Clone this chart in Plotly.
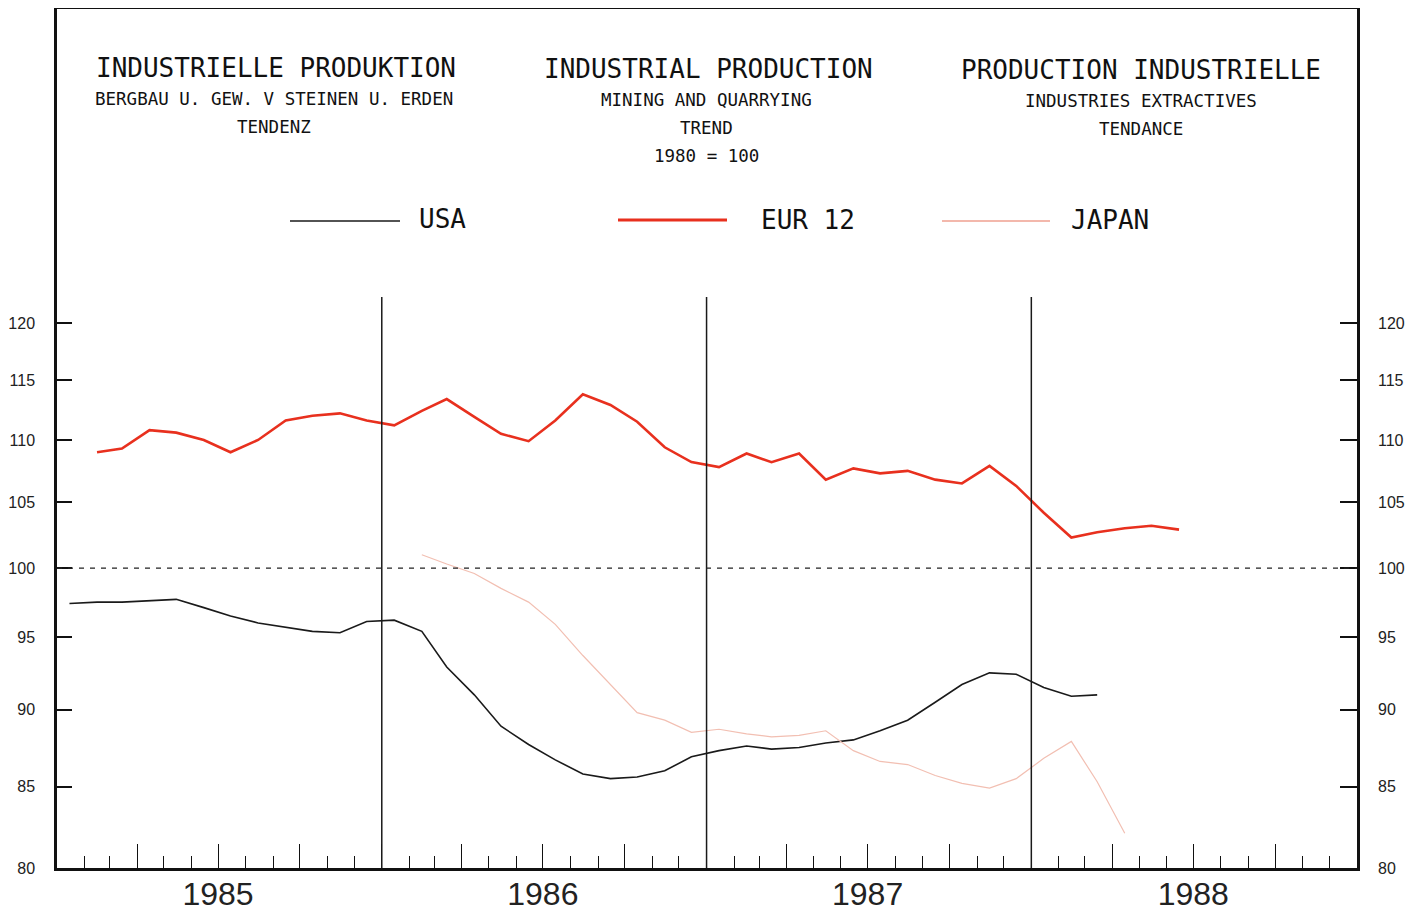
import math
import pandas as pd
import plotly.graph_objects as go

# monthly values, Jan 1985 .. Jun 1988 (1980 = 100)
months = pd.date_range("1985-01-01", periods=42, freq="MS") + pd.Timedelta(days=14)

usa = [97.4, 97.5, 97.5, 97.6, 97.7, 97.1, 96.5, 96.0, 95.7, 95.4, 95.3, 96.1,
       96.2, 95.4, 92.9, 91.0, 88.9, 87.7, 86.7, 85.8, 85.5, 85.6, 86.0, 86.9,
       87.3, 87.6, 87.4, 87.5, 87.8, 88.0, 88.6, 89.3, 90.5, 91.7, 92.5, 92.4,
       91.5, 90.9, 91.0]

eur12 = [None, 109.0, 109.3, 110.8, 110.6, 110.0, 109.0, 110.0, 111.6, 112.0, 112.2, 111.6,
         111.2, 112.4, 113.4, 111.9, 110.5, 109.9, 111.6, 113.8, 112.9, 111.5, 109.4, 108.2,
         107.8, 108.9, 108.2, 108.9, 106.8, 107.7, 107.3, 107.5, 106.8, 106.5, 107.9, 106.3,
         104.2, 102.3, 102.7, 103.0, 103.2, 102.9]

japan = [None] * 13 + [101.0, 100.3, 99.6, 98.5, 97.5, 95.9, 93.7, 91.7, 89.8, 89.3, 88.5,
                       88.7, 88.4, 88.2, 88.3, 88.6, 87.3, 86.6, 86.4, 85.7, 85.2, 84.9, 85.5,
                       86.8, 87.9, 85.3, 82.1]

years = ["1985", "1986", "1987", "1988"]
yticks = [80, 85, 90, 95, 100, 105, 110, 115, 120]

# page body has an 8px margin, so the figure is drawn 8px smaller
OFF = 8
W, H = 1422 - OFF, 917 - OFF
L, R, T, B = 57 - OFF, 65, 1, 49
PW, PH = W - L - R, H - T - B
ylo = math.log10(80)
yhi = ylo + PH / 3095


def px(x):
    return (x - OFF - L) / PW


def py(y):
    return (H - B - (y - OFF)) / PH


fig = go.Figure()
fig.add_trace(go.Scatter(x=months[:len(usa)], y=usa, mode="lines", name="USA",
                         line=dict(color="#1a1a1a", width=1.6)))
fig.add_trace(go.Scatter(x=months[:len(eur12)], y=eur12, mode="lines", name="EUR 12",
                         line=dict(color="#e8301e", width=2.6)))
fig.add_trace(go.Scatter(x=months[:len(japan)], y=japan, mode="lines", name="JAPAN",
                         xaxis="x2", yaxis="y2",
                         line=dict(color="#f2bfb2", width=1.2)))

mono = "DejaVu Sans Mono"
ann = []
def txt(s, x, y, size, xanchor="center"):
    ann.append(dict(text=s, x=px(x), y=py(y), xref="paper", yref="paper", showarrow=False,
                    xanchor=xanchor, yanchor="middle", font=dict(family=mono, size=size, color="#111")))

txt("INDUSTRIELLE PRODUKTION", 276, 68, 26)
txt("BERGBAU U. GEW. V STEINEN U. ERDEN", 274, 99, 17.5)
txt("TENDENZ", 274, 127, 17.5)
txt("INDUSTRIAL PRODUCTION", 709, 69, 26)
txt("MINING AND QUARRYING", 706, 100, 17.5)
txt("TREND", 706, 128, 17.5)
txt("1980 = 100", 706, 156, 17.5)
txt("PRODUCTION INDUSTRIELLE", 1141, 70, 26)
txt("INDUSTRIES EXTRACTIVES", 1141, 101, 17.5)
txt("TENDANCE", 1141, 129, 17.5)
txt("USA", 417, 219, 26, "left")
txt("EUR 12", 759, 220, 26, "left")
txt("JAPAN", 1069, 220, 26, "left")

shapes = []
for x0, x1, y, c, w in [(290, 400, 221, "#1a1a1a", 1.4), (618, 727, 220, "#e8301e", 3),
                        (942, 1050, 221, "#efa090", 1.6)]:
    shapes.append(dict(type="line", xref="paper", yref="paper", x0=px(x0), x1=px(x1),
                       y0=py(y), y1=py(y), line=dict(color=c, width=w)))
# year separators
for yr in ["1986-01-01", "1987-01-01", "1988-01-01"]:
    shapes.append(dict(type="line", xref="x", yref="paper", x0=yr, x1=yr, y0=0, y1=py(297),
                       line=dict(color="#1a1a1a", width=1.5)))
# 1980 = 100 reference
y100 = (math.log10(100) - ylo) / (yhi - ylo)
shapes.append(dict(type="line", xref="paper", yref="paper", x0=0, x1=1, y0=y100, y1=y100,
                   line=dict(color="#222", width=1.2, dash="5px,6px")))

xr = ["1985-01-01", "1989-01-01"]
fig.update_layout(
    width=W, height=H, margin=dict(l=L, r=R, t=T, b=B, autoexpand=False),
    paper_bgcolor="white", plot_bgcolor="white", showlegend=False,
    annotations=ann, shapes=shapes,
    font=dict(family="Liberation Sans", color="#222"),
    xaxis=dict(type="date", range=xr, tickmode="array", automargin=False,
               tickvals=["1985-07-01", "1986-07-01", "1987-07-01", "1988-07-01"], ticktext=years,
               ticks="", showgrid=False, zeroline=False, showline=True, mirror=True,
               linecolor="#111", linewidth=3, tickfont=dict(size=32, color="#222"),
               ticklabelstandoff=-4),
    xaxis2=dict(type="date", range=xr, overlaying="x", side="bottom", showticklabels=False,
                automargin=False,
                tickmode="linear", tick0="1985-01-01", dtick="M3", ticks="inside", ticklen=24,
                tickwidth=1.3, tickcolor="#111", showgrid=False, zeroline=False,
                minor=dict(ticks="inside", dtick="M1", tick0="1985-01-01", ticklen=12,
                           tickwidth=1.1, tickcolor="#111", showgrid=False)),
    yaxis=dict(type="log", range=[ylo, yhi], tickmode="array", tickvals=yticks, automargin=False,
               ticktext=[str(v) for v in yticks], ticks="inside", ticklen=15, tickwidth=1.5,
               tickcolor="#111", showgrid=False, zeroline=False, showline=True, mirror=True,
               linecolor="#111", linewidth=2.5, tickfont=dict(size=16), ticklabelstandoff=16),
    yaxis2=dict(type="log", range=[ylo, yhi], overlaying="y", side="right", tickmode="array",
                automargin=False,
                tickvals=yticks, ticktext=[str(v) for v in yticks], ticks="inside", ticklen=17,
                tickwidth=1.5, tickcolor="#111", showgrid=False, zeroline=False,
                tickfont=dict(size=16), ticklabelstandoff=20),
)

fig.write_html("out.html")
